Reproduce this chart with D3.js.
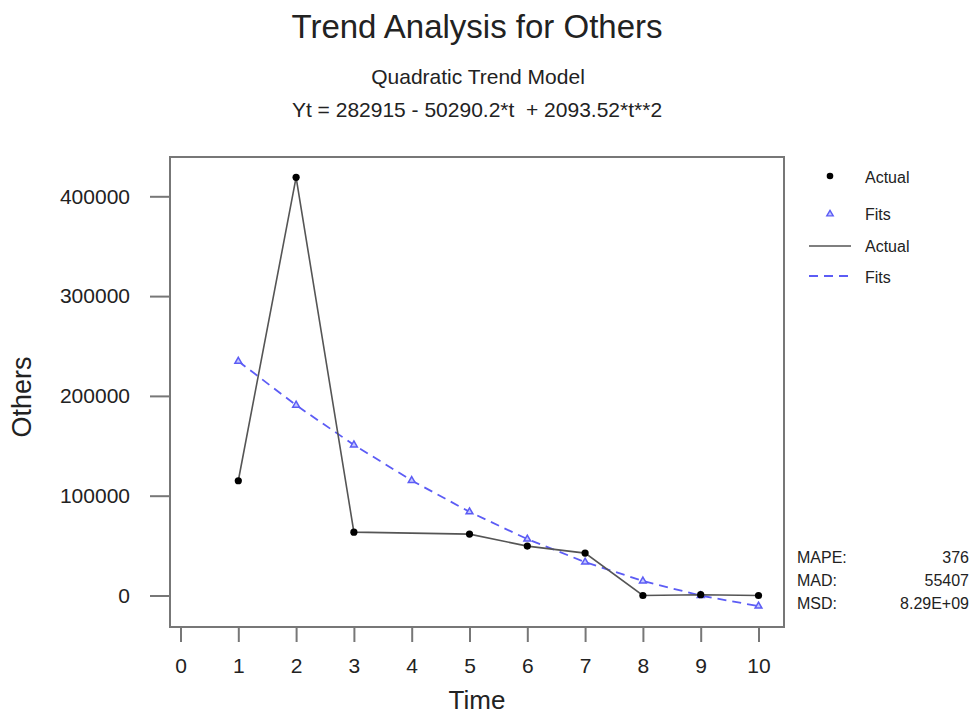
<!DOCTYPE html>
<html>
<head>
<meta charset="utf-8">
<script src="https://cdn.jsdelivr.net/npm/d3@7"></script>
<style>
  body { margin: 0; background: #fff; }
  text { font-family: "Liberation Sans", Arial, sans-serif; fill: #222; }
</style>
</head>
<body>
<div class="chart"></div>
<script>
// Data.
const times = [1, 2, 3, 4, 5, 6, 7, 8, 9, 10];
const actual = [115000, 419000, 63500, null, 61500, 49500, 42500, 0, 800, 0];
const fits = [234718, 190709, 150886, 115250, 83802, 56540, 33466, 14579, -122, -10635];
const xTicks = [0, 1, 2, 3, 4, 5, 6, 7, 8, 9, 10];
const yTicks = [0, 100000, 200000, 300000, 400000];
const statLabels = ["MAPE:", "MAD:", "MSD:"];
const statValues = ["376", "55407", "8.29E+09"];

const W = 974, H = 717;
const box = { left: 170, right: 784, top: 157, bottom: 627 };
const blue = "#5c5cf5";

const svg = d3.select(".chart").append("svg")
  .attr("width", W).attr("height", H);

// Scales.
const x = d3.scaleLinear().domain([0, 10]).range([180.5, 758.5]);
const y = d3.scaleLinear().domain([0, 400000]).range([595.5, 196.3]);

// Titles.
svg.append("text").attr("x", 477).attr("y", 38)
  .attr("text-anchor", "middle").style("font-size", "33px")
  .text("Trend Analysis for Others");
svg.append("text").attr("x", 478).attr("y", 84)
  .attr("text-anchor", "middle").style("font-size", "21px")
  .text("Quadratic Trend Model");
svg.append("text").attr("x", 477).attr("y", 117)
  .attr("text-anchor", "middle").style("font-size", "21px")
  .style("white-space", "pre").attr("xml:space", "preserve")
  .text("Yt = 282915 - 50290.2*t  + 2093.52*t**2");

// Plot frame.
svg.append("rect")
  .attr("x", box.left).attr("y", box.top)
  .attr("width", box.right - box.left).attr("height", box.bottom - box.top)
  .attr("fill", "none").attr("stroke", "#777").attr("stroke-width", 2);

// Axes.
const xAxis = svg.append("g")
  .attr("transform", `translate(0,${box.bottom})`)
  .call(d3.axisBottom(x).tickValues(xTicks).tickSize(15).tickPadding(16).tickFormat(d3.format("d")));
xAxis.select(".domain").remove();
xAxis.selectAll("line").attr("stroke", "#777").attr("stroke-width", 2);
xAxis.selectAll("text").style("font-size", "21px").attr("fill", "#222")
  .style("font-family", "'Liberation Sans', Arial, sans-serif");

const yAxis = svg.append("g")
  .attr("transform", `translate(${box.left},0)`)
  .call(d3.axisLeft(y).tickValues(yTicks).tickSize(20).tickPadding(20).tickFormat(d3.format("d")));
yAxis.select(".domain").remove();
yAxis.selectAll("line").attr("stroke", "#777").attr("stroke-width", 2);
yAxis.selectAll("text").style("font-size", "21px").attr("fill", "#222")
  .style("font-family", "'Liberation Sans', Arial, sans-serif");

// Axis titles.
svg.append("text").attr("x", 477).attr("y", 709)
  .attr("text-anchor", "middle").style("font-size", "26px").text("Time");
svg.append("text")
  .attr("transform", "translate(31,397) rotate(-90)")
  .attr("text-anchor", "middle").style("font-size", "27px").text("Others");

// Lines.
const actualPts = times.map((t, i) => ({ t, v: actual[i] })).filter((d) => d.v !== null);
const fitPts = times.map((t, i) => ({ t, v: fits[i] }));
const line = d3.line().x((d) => x(d.t)).y((d) => y(d.v));

svg.append("path").datum(fitPts)
  .attr("d", line).attr("fill", "none")
  .attr("stroke", blue).attr("stroke-width", 1.8).attr("stroke-dasharray", "9,6");

svg.append("path").datum(actualPts)
  .attr("d", line).attr("fill", "none")
  .attr("stroke", "#555").attr("stroke-width", 1.6);

// Points.
const tri = d3.symbol().type(d3.symbolTriangle).size(20);
svg.selectAll(".fit").data(fitPts).enter().append("path")
  .attr("class", "fit")
  .attr("transform", (d) => `translate(${x(d.t)},${y(d.v)})`)
  .attr("d", tri).attr("fill", "#c4c8ff").attr("stroke", blue).attr("stroke-width", 1.5);

svg.selectAll(".act").data(actualPts).enter().append("circle")
  .attr("class", "act")
  .attr("cx", (d) => x(d.t)).attr("cy", (d) => y(d.v))
  .attr("r", 3.6).attr("fill", "#000");

// Legend.
const lg = svg.append("g");
lg.append("circle").attr("cx", 830).attr("cy", 176).attr("r", 3.3).attr("fill", "#000");
lg.append("path").attr("transform", "translate(830,214)").attr("d", d3.symbol().type(d3.symbolTriangle).size(18))
  .attr("fill", "#c4c8ff").attr("stroke", blue).attr("stroke-width", 1.4);
lg.append("line").attr("x1", 809).attr("x2", 851).attr("y1", 246).attr("y2", 246)
  .attr("stroke", "#555").attr("stroke-width", 1.6);
lg.append("line").attr("x1", 809).attr("x2", 851).attr("y1", 276).attr("y2", 276)
  .attr("stroke", blue).attr("stroke-width", 1.8).attr("stroke-dasharray", "9,6");
const legendText = ["Actual", "Fits", "Actual", "Fits"];
const legendY = [177, 214, 246, 277];
lg.selectAll(".lt").data(legendText).enter().append("text")
  .attr("x", 865).attr("y", (d, i) => legendY[i])
  .attr("dy", "0.35em").style("font-size", "16px").text((d) => d);

// Accuracy measures.
const stats = svg.append("g");
stats.selectAll(".sl").data(statLabels).enter().append("text")
  .attr("x", 797).attr("y", (d, i) => 557 + i * 23)
  .attr("dy", "0.35em").style("font-size", "16px").text((d) => d);
stats.selectAll(".sv").data(statValues).enter().append("text")
  .attr("x", 969).attr("y", (d, i) => 557 + i * 23)
  .attr("dy", "0.35em").attr("text-anchor", "end").style("font-size", "16px").text((d) => d);
</script>
</body>
</html>
